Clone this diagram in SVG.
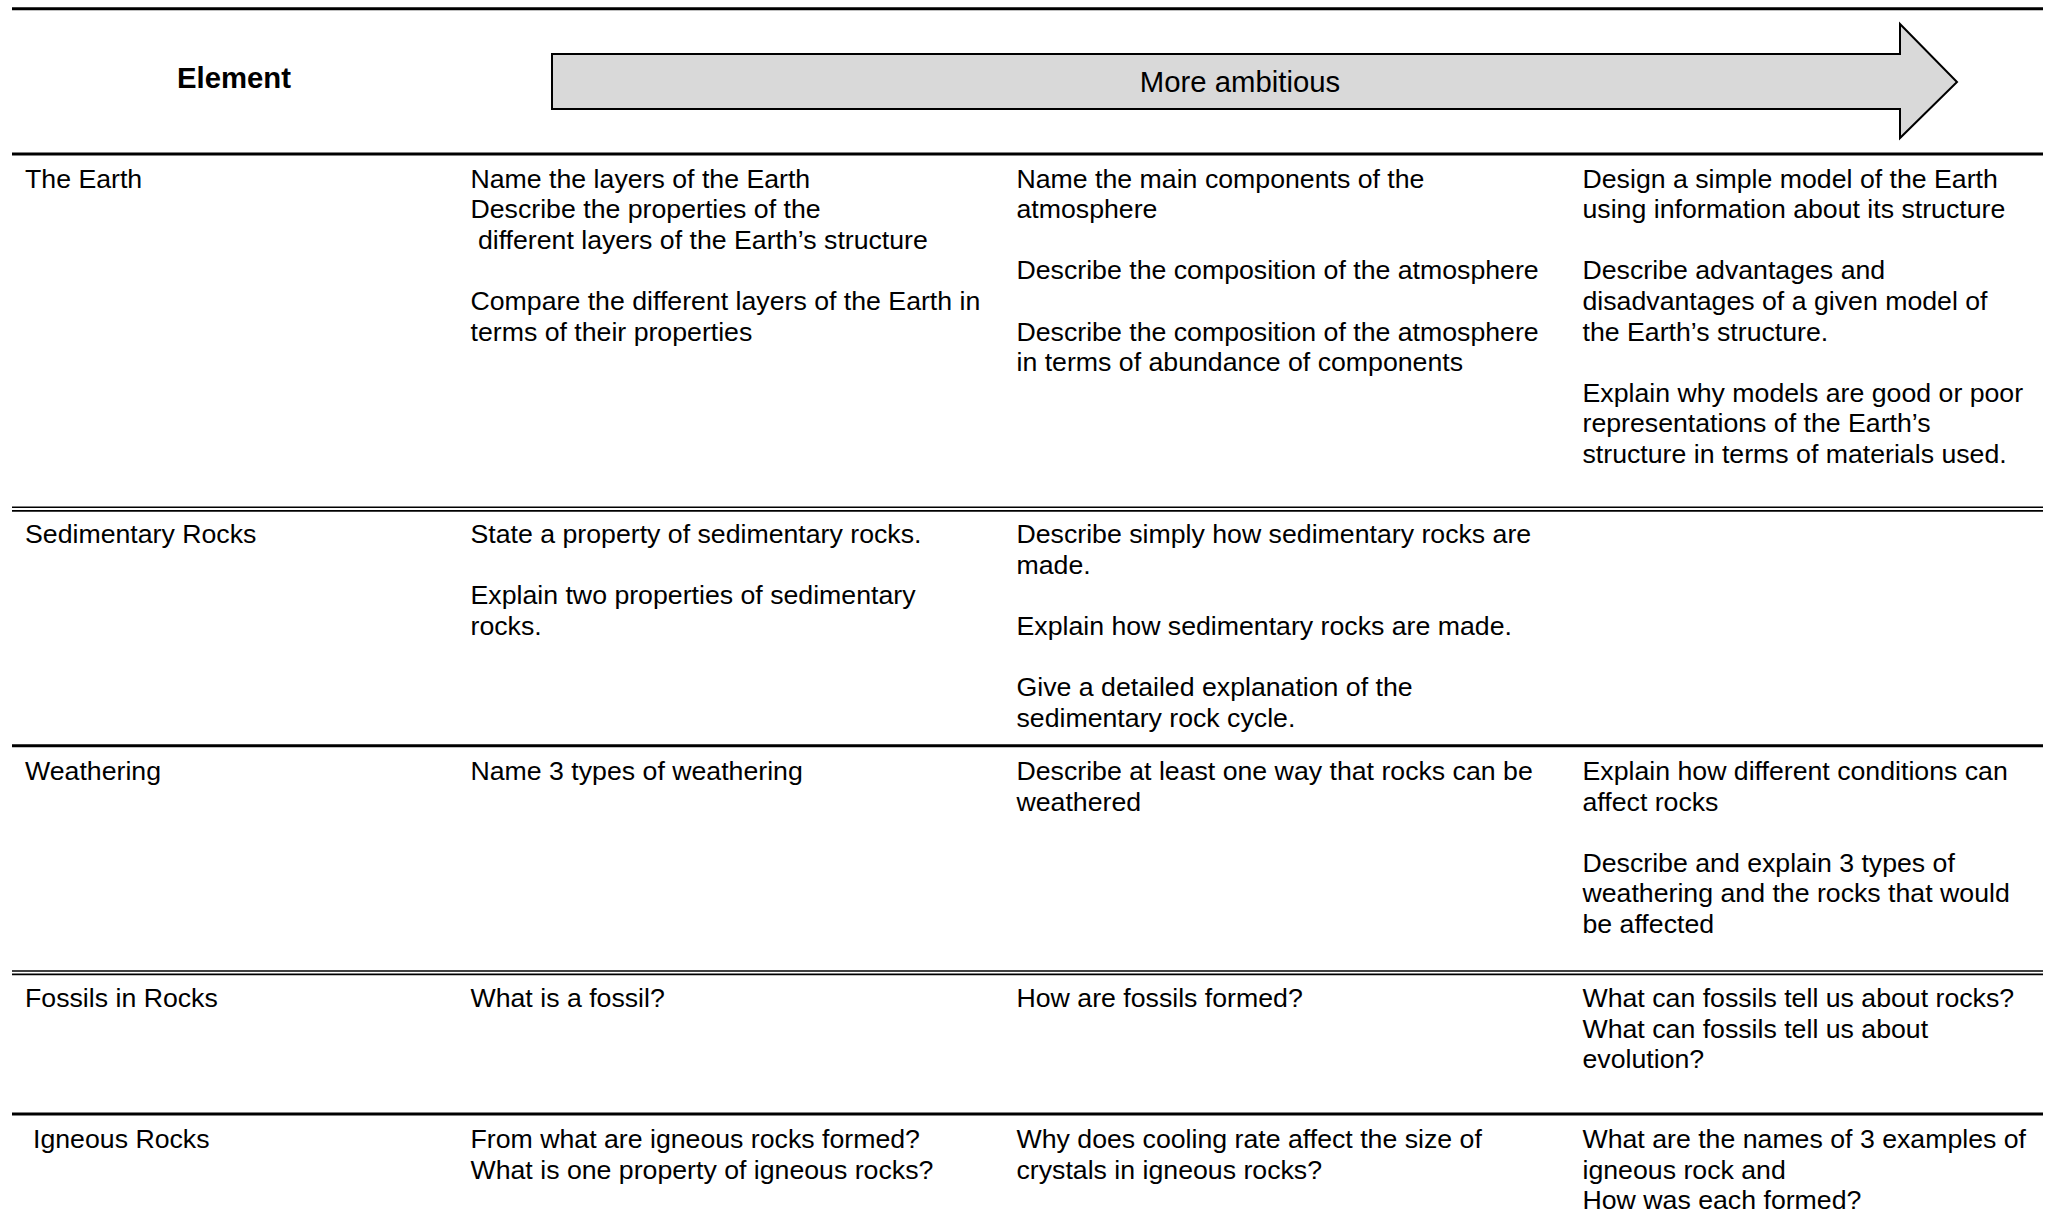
<svg xmlns="http://www.w3.org/2000/svg" width="2049" height="1219" viewBox="0 0 2049 1219">
<style>
text { font-family: "Liberation Sans", Arial, sans-serif; font-size: 26.7px; fill: #000; }
.hdr { font-size: 29.3px; font-weight: bold; }
.amb { font-size: 29.3px; }
.thick { stroke: #000; stroke-width: 3; }
.thin { stroke: #000; stroke-width: 1.6; }
</style>
<rect x="0" y="0" width="2049" height="1219" fill="#fff"/>
<g id="rules">
  <line class="thick" x1="12" y1="8.7" x2="2043" y2="8.7"/>
  <line class="thick" x1="12" y1="154" x2="2043" y2="154"/>
  <line class="thin" x1="12" y1="507.2" x2="2043" y2="507.2"/>
  <line class="thin" x1="12" y1="510.9" x2="2043" y2="510.9"/>
  <line class="thick" x1="12" y1="745.7" x2="2043" y2="745.7"/>
  <line class="thin" x1="12" y1="971" x2="2043" y2="971"/>
  <line class="thin" x1="12" y1="974.4" x2="2043" y2="974.4"/>
  <line class="thick" x1="12" y1="1114" x2="2043" y2="1114"/>
</g>
<g id="header">
  <text class="hdr" x="234" y="88" text-anchor="middle">Element</text>
  <g id="arrow">
    <polygon points="552,54 1900,54 1900,24 1957,82 1900,138 1900,109 552,109" fill="#d9d9d9" stroke="#000" stroke-width="2"/>
    <text class="amb" x="1240" y="92" text-anchor="middle">More ambitious</text>
  </g>
</g>
<g id="row-earth">
  <text x="25" y="187.5">The Earth</text>
  <text x="470.5" y="187.5">Name the layers of the Earth</text>
  <text x="470.5" y="218.1">Describe the properties of the</text>
  <text x="477.9" y="248.7">different layers of the Earth’s structure</text>
  <text x="470.5" y="309.9">Compare the different layers of the Earth in</text>
  <text x="470.5" y="340.5">terms of their properties</text>
  <text x="1016.5" y="187.5">Name the main components of the</text>
  <text x="1016.5" y="218.1">atmosphere</text>
  <text x="1016.5" y="279.3">Describe the composition of the atmosphere</text>
  <text x="1016.5" y="340.5">Describe the composition of the atmosphere</text>
  <text x="1016.5" y="371.1">in terms of abundance of components</text>
  <text x="1582.5" y="187.5">Design a simple model of the Earth</text>
  <text x="1582.5" y="218.1">using information about its structure</text>
  <text x="1582.5" y="279.3">Describe advantages and</text>
  <text x="1582.5" y="309.9">disadvantages of a given model of</text>
  <text x="1582.5" y="340.5">the Earth’s structure.</text>
  <text x="1582.5" y="401.7">Explain why models are good or poor</text>
  <text x="1582.5" y="432.3">representations of the Earth’s</text>
  <text x="1582.5" y="462.9">structure in terms of materials used.</text>
</g>
<g id="row-sedimentary">
  <text x="25" y="543">Sedimentary Rocks</text>
  <text x="470.5" y="543">State a property of sedimentary rocks.</text>
  <text x="470.5" y="604.2">Explain two properties of sedimentary</text>
  <text x="470.5" y="634.8">rocks.</text>
  <text x="1016.5" y="543">Describe simply how sedimentary rocks are</text>
  <text x="1016.5" y="573.6">made.</text>
  <text x="1016.5" y="634.8">Explain how sedimentary rocks are made.</text>
  <text x="1016.5" y="696">Give a detailed explanation of the</text>
  <text x="1016.5" y="726.6">sedimentary rock cycle.</text>
</g>
<g id="row-weathering">
  <text x="25" y="780">Weathering</text>
  <text x="470.5" y="780">Name 3 types of weathering</text>
  <text x="1016.5" y="780">Describe at least one way that rocks can be</text>
  <text x="1016.5" y="810.6">weathered</text>
  <text x="1582.5" y="780">Explain how different conditions can</text>
  <text x="1582.5" y="810.6">affect rocks</text>
  <text x="1582.5" y="871.8">Describe and explain 3 types of</text>
  <text x="1582.5" y="902.4">weathering and the rocks that would</text>
  <text x="1582.5" y="933">be affected</text>
</g>
<g id="row-fossils">
  <text x="25" y="1007">Fossils in Rocks</text>
  <text x="470.5" y="1007">What is a fossil?</text>
  <text x="1016.5" y="1007">How are fossils formed?</text>
  <text x="1582.5" y="1007">What can fossils tell us about rocks?</text>
  <text x="1582.5" y="1037.6">What can fossils tell us about</text>
  <text x="1582.5" y="1068.2">evolution?</text>
</g>
<g id="row-igneous">
  <text x="33" y="1148">Igneous Rocks</text>
  <text x="470.5" y="1148">From what are igneous rocks formed?</text>
  <text x="470.5" y="1178.6">What is one property of igneous rocks?</text>
  <text x="1016.5" y="1148">Why does cooling rate affect the size of</text>
  <text x="1016.5" y="1178.6">crystals in igneous rocks?</text>
  <text x="1582.5" y="1148">What are the names of 3 examples of</text>
  <text x="1582.5" y="1178.6">igneous rock and</text>
  <text x="1582.5" y="1209.2">How was each formed?</text>
</g>
</svg>
